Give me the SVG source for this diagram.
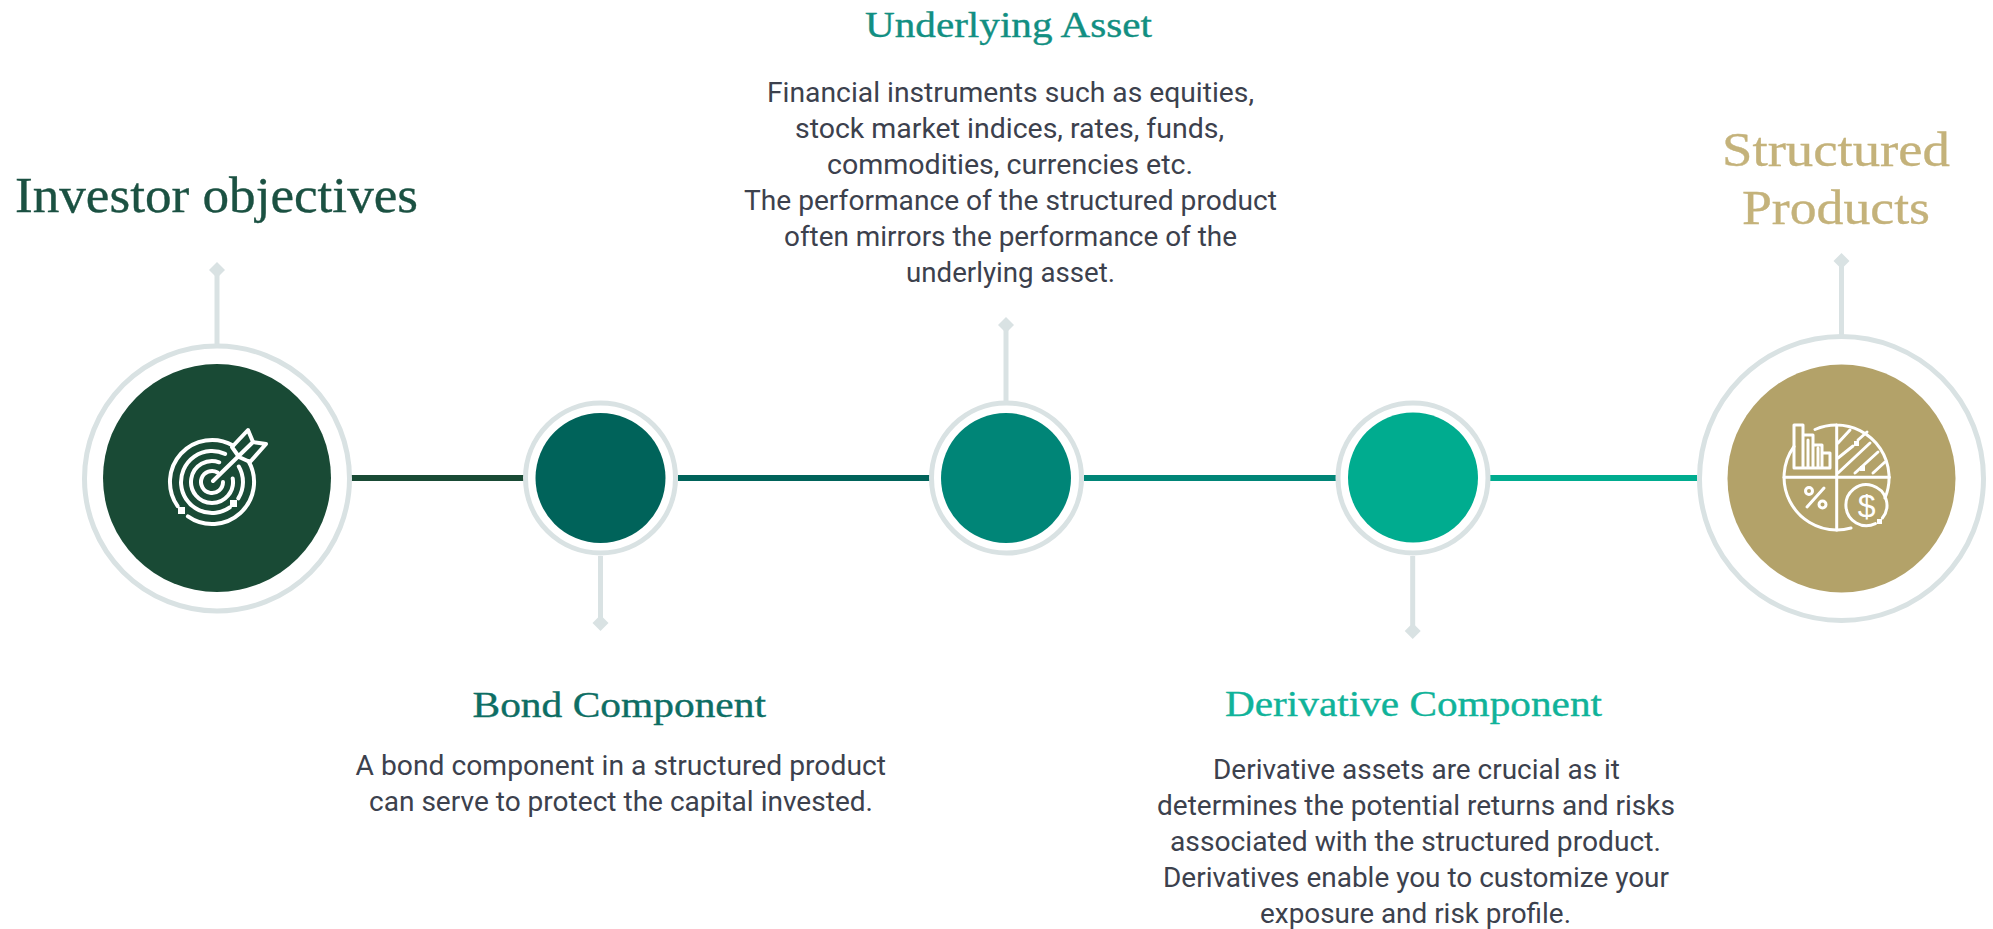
<svg xmlns="http://www.w3.org/2000/svg" width="1993" height="929" viewBox="0 0 1993 929">
<style>
.ring{fill:#fff;stroke:#d9e2e3;stroke-width:5}
.stem{stroke:#d9e2e3;stroke-width:5;fill:none}
.tip{fill:#d9e2e3}
.seg{stroke-width:6;fill:none}
.ic{fill:none;stroke:#fff;stroke-width:4;stroke-linecap:round;stroke-linejoin:round}
.ic2{fill:none;stroke:#fff;stroke-width:3;stroke-linecap:round;stroke-linejoin:round}
.dot{fill:#fff}
.h{font-family:"Liberation Serif","Times New Roman",serif;stroke-width:.35px}
.h1{font-size:50px}
.h2{font-size:35px}
.b{font-family:Roboto,"Liberation Sans",sans-serif;font-size:27px;fill:#3c414d}
</style>
<rect width="1993" height="929" fill="#fff"/>
<g id="connectors">
<line class="seg" x1="351" y1="478" x2="524" y2="478" stroke="#194a35"/>
<line class="seg" x1="678" y1="478" x2="930" y2="478" stroke="#00635a"/>
<line class="seg" x1="1084" y1="478" x2="1336" y2="478" stroke="#008577"/>
<line class="seg" x1="1490" y1="478" x2="1697" y2="478" stroke="#00ac8f"/>
<line class="stem" x1="217" y1="270" x2="217" y2="344"/>
<line class="stem" x1="600.5" y1="556" x2="600.5" y2="623"/>
<line class="stem" x1="1006" y1="325" x2="1006" y2="401"/>
<line class="stem" x1="1412.7" y1="556" x2="1412.7" y2="631"/>
<line class="stem" x1="1841.5" y1="261" x2="1841.5" y2="335"/>
<path class="tip" d="M217 262l8 8-8 8-8-8z"/>
<path class="tip" d="M600.5 615l8 8-8 8-8-8z"/>
<path class="tip" d="M1006 317l8 8-8 8-8-8z"/>
<path class="tip" d="M1412.7 623l8 8-8 8-8-8z"/>
<path class="tip" d="M1841.5 253l8 8-8 8-8-8z"/>
</g>
<g id="node-investor">
<circle class="ring" cx="217" cy="478.5" r="132.5"/>
<circle cx="217" cy="478" r="114" fill="#194a35"/>
<path class="ic" d="M233 445.6A42 42 0 0 0 177.6 506.1M187.9 516.4A42 42 0 0 0 248.4 461M225.1 453.9A31 31 0 1 0 229.8 507.4M238.3 498.4A31 31 0 0 0 238.8 466.5M219.2 462.3A21 21 0 1 0 232.7 478.4M217.5 472.5A11 11 0 1 0 223 482"/>
<path class="ic" d="M213 481L252 443M232 447L248 430L253 442L266 444L250 462L239 457Z"/>
<rect class="dot" x="178" y="507" width="7" height="7"/>
<rect class="dot" x="230" y="500" width="7" height="7"/>
<text class="h h1" x="15" y="212" fill="#1b5142" stroke="#1b5142" textLength="403" lengthAdjust="spacingAndGlyphs">Investor objectives</text>
</g>
<g id="node-bond">
<circle class="ring" cx="600.5" cy="478" r="75"/>
<circle cx="600.5" cy="478" r="65" fill="#00635a"/>
<text class="h h2" x="472.5" y="717" fill="#0d6e64" stroke="#0d6e64" textLength="293.5" lengthAdjust="spacingAndGlyphs">Bond Component</text>
<text class="b" x="355.5" y="775" textLength="530.5" lengthAdjust="spacingAndGlyphs">A bond component in a structured product</text>
<text class="b" x="369" y="811" textLength="504" lengthAdjust="spacingAndGlyphs">can serve to protect the capital invested.</text>
</g>
<g id="node-underlying">
<circle class="ring" cx="1006.5" cy="478" r="75"/>
<circle cx="1006" cy="478" r="65" fill="#008577"/>
<text class="h h2" x="865" y="37" fill="#128f82" stroke="#128f82" textLength="287" lengthAdjust="spacingAndGlyphs">Underlying Asset</text>
<text class="b" x="767" y="102" textLength="487" lengthAdjust="spacingAndGlyphs">Financial instruments such as equities,</text>
<text class="b" x="795" y="138" textLength="429" lengthAdjust="spacingAndGlyphs">stock market indices, rates, funds,</text>
<text class="b" x="827" y="174" textLength="366" lengthAdjust="spacingAndGlyphs">commodities, currencies etc.</text>
<text class="b" x="744" y="210" textLength="533" lengthAdjust="spacingAndGlyphs">The performance of the structured product</text>
<text class="b" x="784" y="246" textLength="453" lengthAdjust="spacingAndGlyphs">often mirrors the performance of the</text>
<text class="b" x="906" y="282" textLength="209" lengthAdjust="spacingAndGlyphs">underlying asset.</text>
</g>
<g id="node-derivative">
<circle class="ring" cx="1413" cy="478" r="75"/>
<circle cx="1413" cy="477.5" r="65" fill="#00ac8f"/>
<text class="h h2" x="1225" y="716" fill="#10b39a" stroke="#10b39a" textLength="377" lengthAdjust="spacingAndGlyphs">Derivative Component</text>
<text class="b" x="1213" y="779" textLength="407" lengthAdjust="spacingAndGlyphs">Derivative assets are crucial as it</text>
<text class="b" x="1157" y="815" textLength="518" lengthAdjust="spacingAndGlyphs">determines the potential returns and risks</text>
<text class="b" x="1170" y="851" textLength="491" lengthAdjust="spacingAndGlyphs">associated with the structured product.</text>
<text class="b" x="1163" y="887" textLength="506" lengthAdjust="spacingAndGlyphs">Derivatives enable you to customize your</text>
<text class="b" x="1260" y="923" textLength="311" lengthAdjust="spacingAndGlyphs">exposure and risk profile.</text>
</g>
<g id="node-structured">
<circle class="ring" cx="1841.5" cy="478.5" r="142"/>
<circle cx="1841.5" cy="478.5" r="114" fill="#b3a269"/>
<path class="ic2" d="M1836.7 425A52.7 52.7 0 0 0 1815 429.5M1794 446.5A52.7 52.7 0 0 0 1836.7 530A52.7 52.7 0 0 0 1851 528M1885 498A52.7 52.7 0 0 0 1836.7 425"/>
<path class="ic2" d="M1836.7 425V530M1784 477.3H1889.4"/>
<path class="ic2" d="M1794 468V425H1803V435H1813V445H1822V453H1830V468ZM1803 435V468M1808 440V468M1813 445V468M1818 448V468M1822 453V468"/>
<path class="ic2" d="M1838 443L1850 430M1838 458L1853 446M1858 440L1867 432M1838 473L1870 443M1855 473L1878 452M1873 473L1885 462"/>
<rect class="dot" x="1854" y="441" width="5" height="5"/>
<rect class="dot" x="1860" y="466" width="5" height="5"/>
<circle class="ic2" cx="1809" cy="491" r="3.5"/>
<circle class="ic2" cx="1822.5" cy="504.5" r="3.5"/>
<path class="ic2" d="M1807 507L1824 488"/>
<path class="ic2" d="M1882.4 518A20.5 20.5 0 1 0 1875.4 523.6"/>
<rect class="dot" x="1877" y="519" width="5" height="5"/>
<text x="1866.7" y="517" text-anchor="middle" font-family="Liberation Sans,sans-serif" font-size="32" fill="#fff">$</text>
<text class="h" x="1722" y="166" font-size="48" fill="#c4b27a" stroke="#c4b27a" textLength="228" lengthAdjust="spacingAndGlyphs">Structured</text>
<text class="h" x="1742" y="224" font-size="48" fill="#c4b27a" stroke="#c4b27a" textLength="188" lengthAdjust="spacingAndGlyphs">Products</text>
</g>
</svg>
